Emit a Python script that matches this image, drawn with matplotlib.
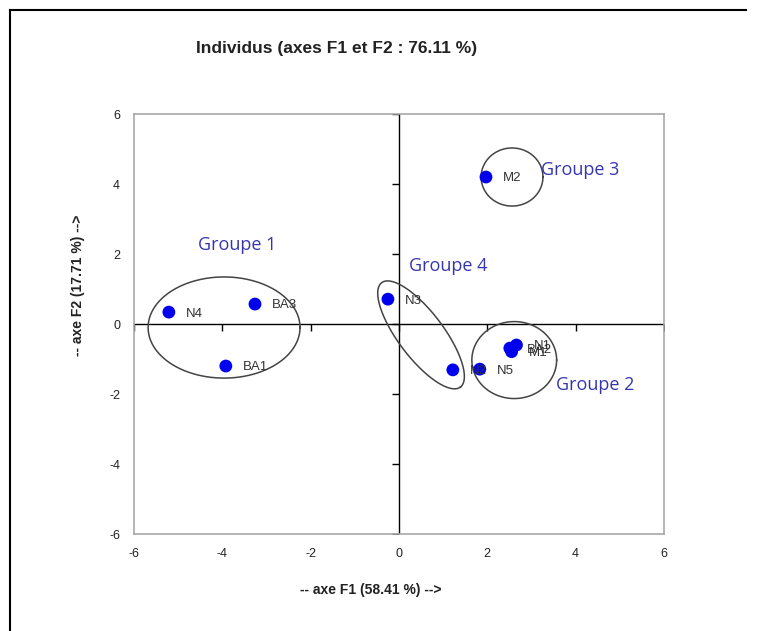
import matplotlib
matplotlib.use("Agg")
import matplotlib.pyplot as plt
from matplotlib.lines import Line2D
import numpy as np

plt.rcParams['axes.unicode_minus'] = False

# individuals (PCA scores on F1 / F2)
NAMES = ['N4', 'BA3', 'BA1', 'N3', 'N2', 'N5', 'BA2', 'N1', 'M1', 'M2']
F1 = [-5.21, -3.26, -3.92, -0.25, 1.22, 1.83, 2.51, 2.66, 2.55, 1.97]
F2 = [0.34, 0.57, -1.20, 0.71, -1.31, -1.29, -0.69, -0.60, -0.79, 4.20]

# group ellipses: centre, width (x units), height (y units), tilt in screen degrees
GROUPS = ['Groupe 1', 'Groupe 2', 'Groupe 3', 'Groupe 4']
ELL_X = [-3.96, 2.61, 2.56, 0.50]
ELL_Y = [-0.10, -1.03, 4.20, -0.31]
ELL_W = [3.44, 1.92, 1.40, 2.96]
ELL_H = [2.89, 2.20, 1.66, 1.30]
ELL_ANGLE = [0, 0, 0, -53]
LAB_X = [-3.67, 4.45, 4.10, 1.12]
LAB_Y = [2.25, -1.73, 4.40, 1.65]

TICKS = [-6, -4, -2, 0, 2, 4, 6]

FONT = 'Liberation Sans'
BLUE = '#0000ee'
GROUP_COL = '#3535b0'

fig = plt.figure(figsize=(7.59, 6.31), dpi=100)
fig.patch.set_facecolor('white')
ax = fig.add_axes([0.1765, 0.1537, 0.6983, 0.6656])

ax.set_xlim(-6, 6)
ax.set_ylim(-6, 6)
for sp in ax.spines.values():
    sp.set_color('#a8a8a8')
    sp.set_linewidth(1.2)
ax.tick_params(length=0, labelsize=9, labelcolor='#222222', pad=10)
ax.set_xticks(TICKS)
ax.set_yticks(TICKS)
for lab in ax.get_xticklabels() + ax.get_yticklabels():
    lab.set_family(FONT)

# axes through the origin, with small ticks
ax.axhline(0, color='black', lw=1.0, zorder=2)
ax.axvline(0, color='black', lw=1.0, zorder=2)
for t in TICKS:
    ax.plot([t], [0], marker=3, color='black', ms=5, mew=1.0, zorder=2)
    ax.plot([0], [t], marker=0, color='black', ms=5, mew=1.0, zorder=2)

# points + labels
ax.scatter(F1, F2, s=85, color=BLUE, edgecolors='none', zorder=4)
for n, x, y in zip(NAMES, F1, F2):
    ax.annotate(n, (x, y), xytext=(12.5, -1), textcoords='offset points',
                va='center', ha='left', fontsize=9.5, color='#333333',
                family=FONT, zorder=5)

# ellipses, drawn in a space where x is scaled to the screen aspect
bb = ax.get_window_extent()
ratio = (bb.width / 12.0) / (bb.height / 12.0)
t = np.linspace(0, 2 * np.pi, 300)
for cx, cy, w, h, ang in zip(ELL_X, ELL_Y, ELL_W, ELL_H, ELL_ANGLE):
    a = w / 2 * ratio
    b = h / 2
    th = np.deg2rad(ang)
    u = a * np.cos(t) * np.cos(th) - b * np.sin(t) * np.sin(th)
    v = a * np.cos(t) * np.sin(th) + b * np.sin(t) * np.cos(th)
    ax.plot(cx + u / ratio, cy + v, color='#444444', lw=1.1, zorder=3)

for g, x, y in zip(GROUPS, LAB_X, LAB_Y):
    ax.text(x, y, g, ha='center', va='center', fontsize=13,
            color=GROUP_COL, family='Open Sans', zorder=5)

fig.text(0.444, 0.923, 'Individus (axes F1 et F2 : 76.11 %)', ha='center',
         va='center', fontsize=12.5, fontweight='bold', color='#222222',
         family=FONT)
fig.text(0.489, 0.065, '-- axe F1 (58.41 %) -->', ha='center', va='center',
         fontsize=10, fontweight='bold', color='#222222', family=FONT)
fig.text(0.103, 0.548, '-- axe F2 (17.71 %) -->', ha='center', va='center',
         rotation=90, fontsize=10, fontweight='bold', color='#222222',
         family=FONT)

# outer chart frame
fig.add_artist(Line2D([10 / 759, 10 / 759], [0, 1 - 10 / 631],
                      transform=fig.transFigure, color='black', lw=1.5))
fig.add_artist(Line2D([10 / 759, 746 / 759], [1 - 10 / 631, 1 - 10 / 631],
                      transform=fig.transFigure, color='black', lw=1.5))

fig.savefig('out.png', dpi=100, facecolor='white')
